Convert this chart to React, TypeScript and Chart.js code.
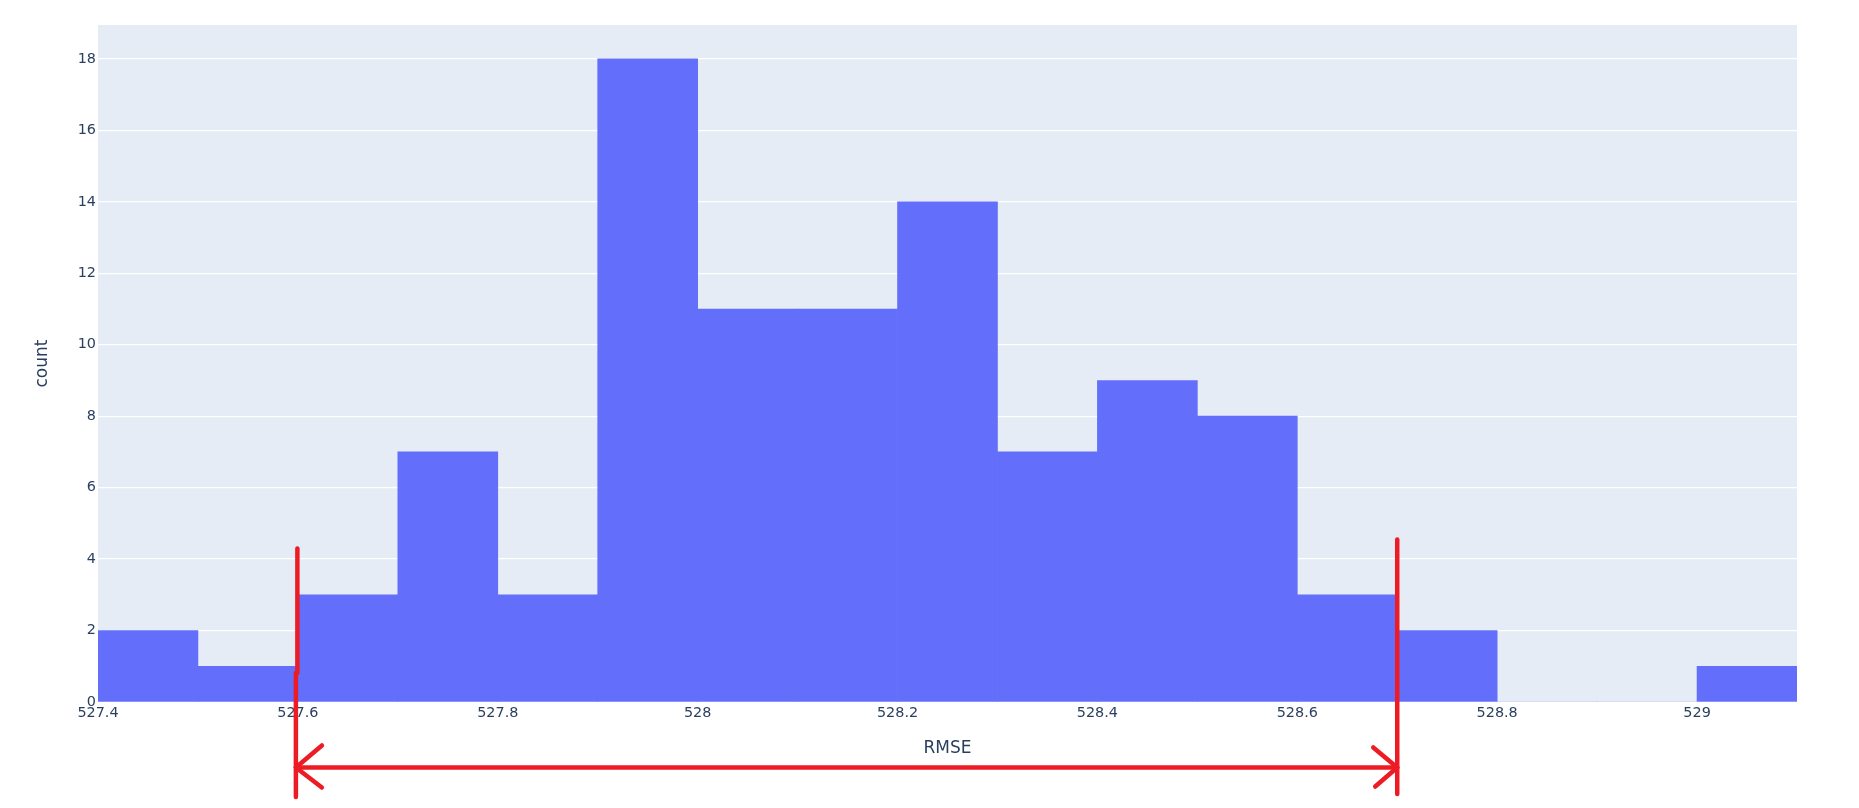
import React, { useEffect, useRef } from 'react';
import { Chart, registerables } from 'chart.js';

Chart.register(...registerables);

// Histogram bins (start of each 0.1-wide bin) and counts
const binStarts = [527.4, 527.5, 527.6, 527.7, 527.8, 527.9, 528.0, 528.1, 528.2, 528.3, 528.4, 528.5, 528.6, 528.7, 528.8, 528.9, 529.0];
const counts = [2, 1, 3, 7, 3, 18, 11, 11, 14, 7, 9, 8, 3, 2, 0, 0, 1];
const binWidth = 0.1;

const xTickValues = [527.4, 527.6, 527.8, 528.0, 528.2, 528.4, 528.6, 528.8, 529.0];
const yTickValues = [0, 2, 4, 6, 8, 10, 12, 14, 16, 18];
const xRange = [527.4, 529.1];
const yRange = [0, 18.95];

// Hand-drawn bracket annotation (x in data units, top of the vertical strokes in count units)
const bracketX = [527.6, 528.7];
const bracketTop = [4.3, 4.55];

const FONT = '"DejaVu Sans", Verdana, sans-serif';
const TEXT_COLOR = '#2a3f5f';
const RED = '#ED1C24';

const bgPlugin = {
  id: 'plotBg',
  beforeDraw(chart: any) {
    const { ctx, chartArea } = chart;
    ctx.save();
    ctx.fillStyle = '#E5ECF6';
    ctx.fillRect(chartArea.left, chartArea.top, chartArea.right - chartArea.left, chartArea.bottom - chartArea.top);
    ctx.restore();
  },
};

const bracketPlugin = {
  id: 'bracket',
  afterDraw(chart: any) {
    const { ctx, chartArea } = chart;
    const xs = chart.scales.x;
    const ys = chart.scales.y;
    const xl = xs.getPixelForValue(bracketX[0]);
    const xr = xs.getPixelForValue(bracketX[1]);
    const yBottom = chartArea.bottom + 95;
    const yArrow = chartArea.bottom + 65.5;
    const yBreak = chartArea.bottom - 29;
    ctx.save();
    ctx.strokeStyle = RED;
    ctx.lineWidth = 4.5;
    ctx.lineCap = 'round';
    ctx.lineJoin = 'round';
    // left vertical (two strokes, slightly offset)
    ctx.beginPath();
    ctx.moveTo(xl - 0.5, ys.getPixelForValue(bracketTop[0]));
    ctx.lineTo(xl - 0.5, yBreak);
    ctx.stroke();
    ctx.beginPath();
    ctx.moveTo(xl - 2, yBreak);
    ctx.lineTo(xl - 2, yBottom);
    ctx.stroke();
    // right vertical
    ctx.beginPath();
    ctx.moveTo(xr, ys.getPixelForValue(bracketTop[1]));
    ctx.lineTo(xr, yBottom - 3);
    ctx.stroke();
    // horizontal
    ctx.beginPath();
    ctx.moveTo(xl - 2, yArrow);
    ctx.lineTo(xr, yArrow);
    ctx.stroke();
    // left arrow head
    ctx.beginPath();
    ctx.moveTo(xl + 24, yArrow - 22);
    ctx.lineTo(xl - 2, yArrow);
    ctx.lineTo(xl + 24, yArrow + 20);
    ctx.stroke();
    // right arrow head
    ctx.beginPath();
    ctx.moveTo(xr - 24, yArrow - 20);
    ctx.lineTo(xr, yArrow);
    ctx.lineTo(xr - 22, yArrow + 19);
    ctx.stroke();
    ctx.restore();
  },
};

export default function App() {
  const canvasRef = useRef<HTMLCanvasElement | null>(null);

  useEffect(() => {
    document.body.style.margin = '0';
    document.body.style.overflow = 'hidden';
    const canvas = canvasRef.current;
    if (!canvas) return;
    const data = binStarts.map((s, i) => ({ x: s + binWidth / 2, y: counts[i] }));
    const chart = new Chart(canvas, {
      type: 'bar',
      data: {
        datasets: [
          {
            label: 'count',
            data,
            backgroundColor: '#636efa',
            borderWidth: 0,
            barPercentage: 1,
            categoryPercentage: 1,
          },
        ],
      },
      options: {
        responsive: false,
        animation: false,
        layout: { padding: { left: 0, right: 62, top: 25, bottom: 0 } },
        plugins: {
          legend: { display: false },
          tooltip: { enabled: false },
        },
        scales: {
          x: {
            type: 'linear',
            offset: false,
            min: xRange[0],
            max: xRange[1],
            grid: { display: false, drawTicks: false },
            border: { display: false },
            afterBuildTicks: (s: any) => {
              s.ticks = xTickValues.map((v) => ({ value: v }));
            },
            afterFit: (s: any) => {
              s.height = 106;
            },
            ticks: {
              autoSkip: false,
              maxRotation: 0,
              padding: 3,
              color: TEXT_COLOR,
              font: { family: FONT, size: 14.4 },
              callback: (v: any) => String(Number(Number(v).toFixed(1))),
            },
            title: {
              display: true,
              text: 'RMSE',
              color: TEXT_COLOR,
              font: { family: FONT, size: 17 },
              padding: { top: 0, bottom: 49 },
            },
          },
          y: {
            type: 'linear',
            min: yRange[0],
            max: yRange[1],
            grid: { color: '#ffffff', lineWidth: 1.2, drawTicks: false },
            border: { display: false },
            afterBuildTicks: (s: any) => {
              s.ticks = yTickValues.map((v) => ({ value: v }));
            },
            afterFit: (s: any) => {
              s.width = 98;
            },
            ticks: {
              padding: 2,
              color: TEXT_COLOR,
              font: { family: FONT, size: 14.4 },
            },
            title: {
              display: true,
              text: 'count',
              color: TEXT_COLOR,
              font: { family: FONT, size: 17 },
              padding: { top: 32, bottom: 0 },
            },
          },
        },
      },
      plugins: [bgPlugin, bracketPlugin],
    } as any);
    return () => {
      chart.destroy();
    };
  }, []);

  return (
    <div style={{ position: 'absolute', left: 0, top: 0, width: 1859, height: 808 }}>
      <canvas ref={canvasRef} width={1859} height={808} style={{ display: 'block' }} />
    </div>
  );
}
